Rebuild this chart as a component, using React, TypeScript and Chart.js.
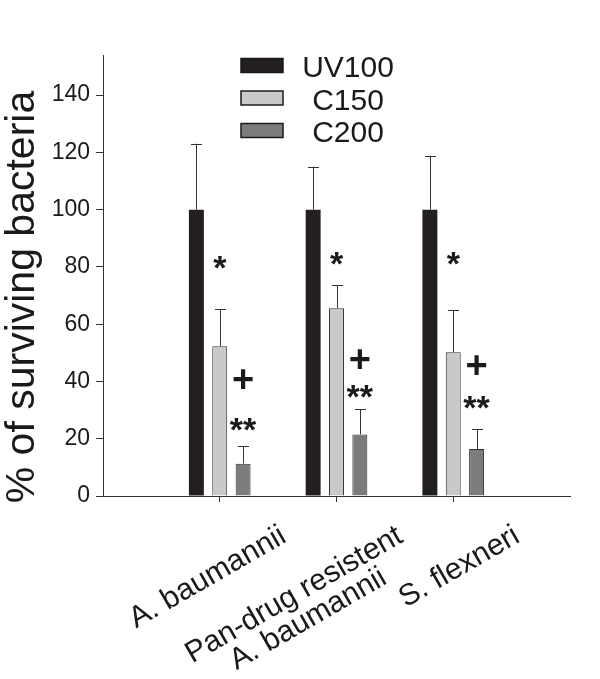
import React, { useEffect, useRef } from 'react';
import Chart from 'chart.js/auto';

// ---- data ----
const CATEGORIES: (string | string[])[] = ['A. baumannii', ['Pan-drug resistent', 'A. baumannii'], 'S. flexneri'];
const SERIES_NAMES = ['UV100', 'C150', 'C200'];
const UV100 = [100, 100, 100];
const C150 = [52.3, 65.6, 50.2];
const C200 = [11.3, 21.5, 16.4];
const UV100_ERR_TOP = [123, 115, 118.8];
const C150_ERR_TOP = [65.2, 73.7, 64.8];
const C200_ERR_TOP = [17.4, 30.3, 23.3];
const STAR_ON_C150 = [81.6, 83, 83];
const PLUS_ON_C200 = [41, 47.7, 45.6];
const DSTAR_ON_C200 = [25, 36.6, 32.8];
const Y_TICKS = [0, 20, 40, 60, 80, 100, 120, 140];
const Y_MAX = 154;
const Y_TITLE = '% of surviving bacteria';

const FONT = "'Liberation Sans', Arial, Helvetica, sans-serif";
const INK = '#1a1a1a';
const COLORS = ['#231f20', '#c8c9cb', '#7b7c7e'];
const BORDERS = ['#231f20', '#2e2e2e', '#2e2e2e'];

const pad = (arr: any[]) => [null, ...arr, null];

export default function App() {
  const ref = useRef<HTMLCanvasElement | null>(null);

  useEffect(() => {
    document.body.style.margin = '0';
    const canvas = ref.current;
    if (!canvas) return;

    const errTops = [UV100_ERR_TOP, C150_ERR_TOP, C200_ERR_TOP];

    const decorPlugin = {
      id: 'decor',
      afterDatasetsDraw(chart: any) {
        const ctx = chart.ctx as CanvasRenderingContext2D;
        const y = chart.scales.y;
        const x = chart.scales.x;
        ctx.save();
        // error bars (upper only)
        ctx.strokeStyle = '#333';
        ctx.lineWidth = 1;
        errTops.forEach((tops, di) => {
          const meta = chart.getDatasetMeta(di);
          tops.forEach((t, j) => {
            const bar = meta.data[j + 1];
            if (!bar) return;
            const bx = Math.round(bar.x) + 0.5;
            const top = y.getPixelForValue(t);
            ctx.beginPath();
            ctx.moveTo(bx, bar.y);
            ctx.lineTo(bx, top);
            ctx.moveTo(bx - 5.5, Math.round(top) + 0.5);
            ctx.lineTo(bx + 5.5, Math.round(top) + 0.5);
            ctx.stroke();
          });
        });
        // significance symbols
        ctx.fillStyle = INK;
        ctx.textAlign = 'center';
        ctx.textBaseline = 'alphabetic';
        const drawSym = (sym: string, size: number, di: number, vals: number[]) => {
          ctx.font = `bold ${size}px ${FONT}`;
          const meta = chart.getDatasetMeta(di);
          vals.forEach((v, j) => {
            const bar = meta.data[j + 1];
            const m = ctx.measureText(sym);
            const py = y.getPixelForValue(v) + (m.actualBoundingBoxAscent - m.actualBoundingBoxDescent) / 2;
            ctx.fillText(sym, bar.x, py);
          });
        };
        drawSym('*', 34, 1, STAR_ON_C150);
        drawSym('+', 38, 2, PLUS_ON_C200);
        drawSym('**', 34, 2, DSTAR_ON_C200);

        // x category labels (rotated, right end of first line anchored near the tick)
        ctx.font = `30px ${FONT}`;
        ctx.textBaseline = 'alphabetic';
        CATEGORIES.forEach((lab, j) => {
          const lines = Array.isArray(lab) ? lab : [lab];
          const tx = x.getPixelForValue(j + 1);
          const w = Math.max(...lines.map((l) => ctx.measureText(l).width));
          ctx.save();
          ctx.translate(tx + 68, 541);
          ctx.rotate(-Math.PI / 6);
          ctx.textAlign = 'center';
          lines.forEach((l, i) => ctx.fillText(l, -w / 2, i * 28));
          ctx.restore();
        });

        // y title
        ctx.font = `41px ${FONT}`;
        ctx.textAlign = 'center';
        ctx.textBaseline = 'alphabetic';
        ctx.save();
        ctx.translate(34, 297);
        ctx.rotate(-Math.PI / 2);
        ctx.fillText(Y_TITLE, 0, 0);
        ctx.restore();

        // legend
        ctx.font = `30px ${FONT}`;
        ctx.textBaseline = 'alphabetic';
        SERIES_NAMES.forEach((name, i) => {
          const cy = 65.5 + i * 32.5;
          ctx.fillStyle = COLORS[i];
          ctx.fillRect(241, cy - 7, 42, 14);
          ctx.strokeStyle = '#1a1a1a';
          ctx.lineWidth = 1.5;
          ctx.strokeRect(241, cy - 7, 42, 14);
          ctx.fillStyle = INK;
          ctx.textAlign = 'center';
          ctx.fillText(name, 348, cy + 11.5);
        });
        ctx.restore();
      },
    };

    const chart = new Chart(canvas, {
      type: 'bar',
      data: {
        labels: pad(CATEGORIES as any[]).map((l) => (l === null ? '' : l)),
        datasets: [UV100, C150, C200].map((vals, i) => ({
          label: SERIES_NAMES[i],
          data: pad(vals),
          backgroundColor: COLORS[i],
          borderColor: BORDERS[i],
          borderWidth: i === 0 ? 0 : 1,
          categoryPercentage: 0.6,
          barPercentage: 0.64,
        })),
      },
      options: {
        responsive: false,
        animation: false,
        devicePixelRatio: 1,
        layout: { padding: { top: 55, right: 30, left: 0, bottom: 0 } },
        plugins: {
          legend: { display: false },
          tooltip: { enabled: false },
          title: { display: false },
        },
        scales: {
          x: {
            type: 'category',
            offset: false,
            ticks: { display: false },
            grid: {
              offset: false,
              drawOnChartArea: false,
              drawTicks: true,
              tickLength: 6,
              color: (c: any) => (c.index >= 1 && c.index <= 3 ? '#333' : 'rgba(0,0,0,0)'),
            },
            border: { display: true, color: '#333', width: 1 },
            afterFit: (s: any) => {
              s.height = 183;
            },
          },
          y: {
            min: 0,
            max: Y_MAX,
            afterBuildTicks: (s: any) => {
              s.ticks = Y_TICKS.map((v) => ({ value: v }));
            },
            afterFit: (s: any) => {
              s.width = 103;
            },
            ticks: {
              font: { family: FONT, size: 23 },
              color: INK,
              padding: 6,
            },
            grid: {
              drawOnChartArea: false,
              drawTicks: true,
              tickLength: 7,
              color: '#333',
            },
            border: { display: true, color: '#333', width: 1 },
          },
        },
      },
      plugins: [decorPlugin],
    } as any);

    return () => chart.destroy();
  }, []);

  return (
    <div style={{ width: 600, height: 679 }}>
      <canvas ref={ref} width={600} height={679} style={{ display: 'block' }} />
    </div>
  );
}
